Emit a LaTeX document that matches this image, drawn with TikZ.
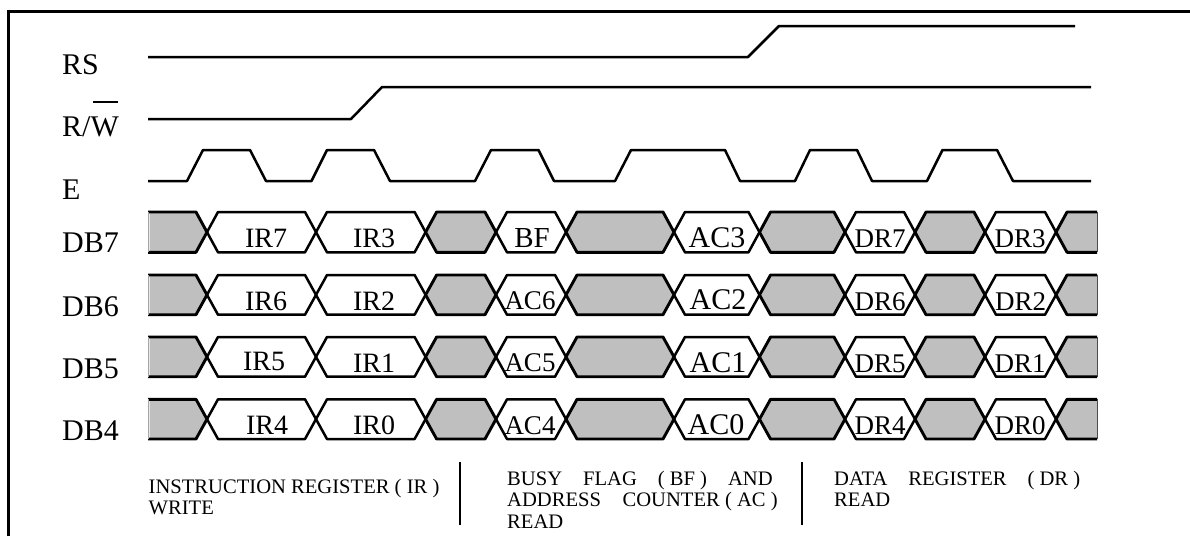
\documentclass[tikz,border=0pt]{standalone}
\usepackage{fontspec}
\setmainfont{Liberation Serif}
\newcommand{\fs}[1]{\fontsize{#1}{#1}\selectfont}
\definecolor{busgray}{HTML}{BFBFBF}
\tikzset{
  sig/.style={draw=black,line width=2.5pt,line join=round},
  bus/.style={draw=black,line width=2.5pt,line join=round},
  idle/.style={draw=black,fill=busgray,line width=2.9pt,line join=round},
  sidelab/.style={anchor=base west,inner sep=0pt,font=\fs{30}},
  cell/.style={anchor=base,inner sep=0pt},
  note/.style={anchor=base west,inner sep=0pt,font=\fs{20.6}},
}
\begin{document}
\begin{tikzpicture}[x=1pt,y=-1pt]
\useasboundingbox (0,0) rectangle (1190,536);
\fill[white] (0,0) rectangle (1190,536);
% frame
\draw[line width=3pt] (8,536) -- (8,11) -- (1190,11);
% control signals
\draw[sig] (148,57) -- (748,57) -- (779,26) -- (1075,26);
\draw[sig] (148,119) -- (351,119) -- (382,87) -- (1091,87);
\draw[sig] (148,181) -- (187,181) -- (203,150) -- (250,150) -- (266,181)
  -- (311.5,181) -- (327,150) -- (374,150) -- (390,181)
  -- (475,181) -- (491,150) -- (538.5,150) -- (554,181)
  -- (615,181) -- (631,150) -- (725,150) -- (740,181)
  -- (795,181) -- (810,150) -- (857,150) -- (872,181)
  -- (927,181) -- (942.5,150) -- (997,150) -- (1013,181) -- (1091,181);
% data buses
\foreach \tp/\bt/\md in {212/252.3/232.15,275/314.7/294.85,337/376.7/356.85,399.3/439/419.15}{
  \foreach \a/\b in {425.6/496,566/674,759.5/845,915/985}{
    \path[idle] (\a,\md) -- ({\a+11},\tp) -- ({\b-11},\tp) -- (\b,\md) -- ({\b-11},\bt) -- ({\a+11},\bt) -- cycle;
  }
  \path[fill=busgray] (149.5,\tp) -- (196,\tp) -- (207,\md) -- (196,\bt) -- (149.5,\bt) -- cycle;
  \draw[line width=2.9pt,line join=round] (148,\tp) -- (196,\tp) -- (207,\md) -- (196,\bt) -- (148,\bt);
  \draw[line width=.6pt,draw=black!35] (148,\tp) -- (148,\bt);
  \path[fill=busgray] (1097,\tp) -- (1067,\tp) -- (1056,\md) -- (1067,\bt) -- (1097,\bt) -- cycle;
  \draw[line width=2.9pt,line join=round] (1097,\tp) -- (1067,\tp) -- (1056,\md) -- (1067,\bt) -- (1097,\bt);
  \draw[line width=.8pt,draw=black!70] (1097,\tp) -- (1097,\bt);
  \foreach \a/\b in {207/316,316/425.6,496/566,674/759.5,845/915,985/1056}{
    \path[bus] (\a,\md) -- ({\a+11},\tp) -- ({\b-11},\tp) -- (\b,\md) -- ({\b-11},\bt) -- ({\a+11},\bt) -- cycle;
  }
}
% side labels
\node[sidelab] (lrs) at (62,74) {RS};
\node[sidelab] (lrw) at (62,136) {R/W};
\draw[line width=2.5pt] (93,102) -- (118,102);
\node[sidelab] (le) at (62,199) {E};
\node[sidelab] (l7) at (62,252) {DB7};
\node[sidelab] (l6) at (62,316) {DB6};
\node[sidelab] (l5) at (62,378) {DB5};
\node[sidelab] (l4) at (62,440) {DB4};
% DB7
\node[cell,font=\fs{28}] (c1) at (266,247) {IR7};
\node[cell,font=\fs{28}] (c2) at (374,247) {IR3};
\node[cell,font=\fs{29}] (c3) at (532,247) {BF};
\node[cell,font=\fs{30}] (c4) at (717,247) {AC3};
\node[cell,font=\fs{27}] (c5) at (880,247) {DR7};
\node[cell,font=\fs{27}] (c6) at (1020,247) {DR3};
% DB6
\node[cell,font=\fs{28}] (d1) at (266,310) {IR6};
\node[cell,font=\fs{28}] (d2) at (374,310) {IR2};
\node[cell,font=\fs{27}] (d3) at (530,309) {AC6};
\node[cell,font=\fs{30}] (d4) at (718,309) {AC2};
\node[cell,font=\fs{27}] (d5) at (880,310) {DR6};
\node[cell,font=\fs{27}] (d6) at (1020.5,310) {DR2};
% DB5
\node[cell,font=\fs{28}] (e1) at (264,370) {IR5};
\node[cell,font=\fs{28}] (e2) at (374,372) {IR1};
\node[cell,font=\fs{27}] (e3) at (530,371) {AC5};
\node[cell,font=\fs{30}] (e4) at (718,372) {AC1};
\node[cell,font=\fs{27}] (e5) at (880,372) {DR5};
\node[cell,font=\fs{27}] (e6) at (1020,372) {DR1};
% DB4
\node[cell,font=\fs{28}] (f1) at (267,434) {IR4};
\node[cell,font=\fs{28}] (f2) at (374,434) {IR0};
\node[cell,font=\fs{27}] (f3) at (530,434) {AC4};
\node[cell,font=\fs{30}] (f4) at (716,434) {AC0};
\node[cell,font=\fs{27}] (f5) at (880,434) {DR4};
\node[cell,font=\fs{27}] (f6) at (1020,434) {DR0};
% captions
\node[note] (n1) at (148.5,493) {INSTRUCTION REGISTER ( IR )};
\node[note] (n2) at (148.5,514) {WRITE};
\node[note] (n3) at (507,485) {\hbox to 265.5pt{BUSY\hfil FLAG\hfil ( BF )\hfil AND}};
\node[note] (n4) at (507,506) {\hbox to 270.5pt{ADDRESS\hfil COUNTER ( AC )}};
\node[note] (n5) at (507,528) {READ};
\node[note] (n6) at (834,485) {\hbox to 246pt{DATA\hfil REGISTER\hfil ( DR )}};
\node[note] (n7) at (834,506) {READ};
% dividers
\draw[line width=2.8pt] (460,462) -- (460,525);
\draw[line width=2.8pt] (802,462) -- (802,525);
\end{tikzpicture}
\end{document}
